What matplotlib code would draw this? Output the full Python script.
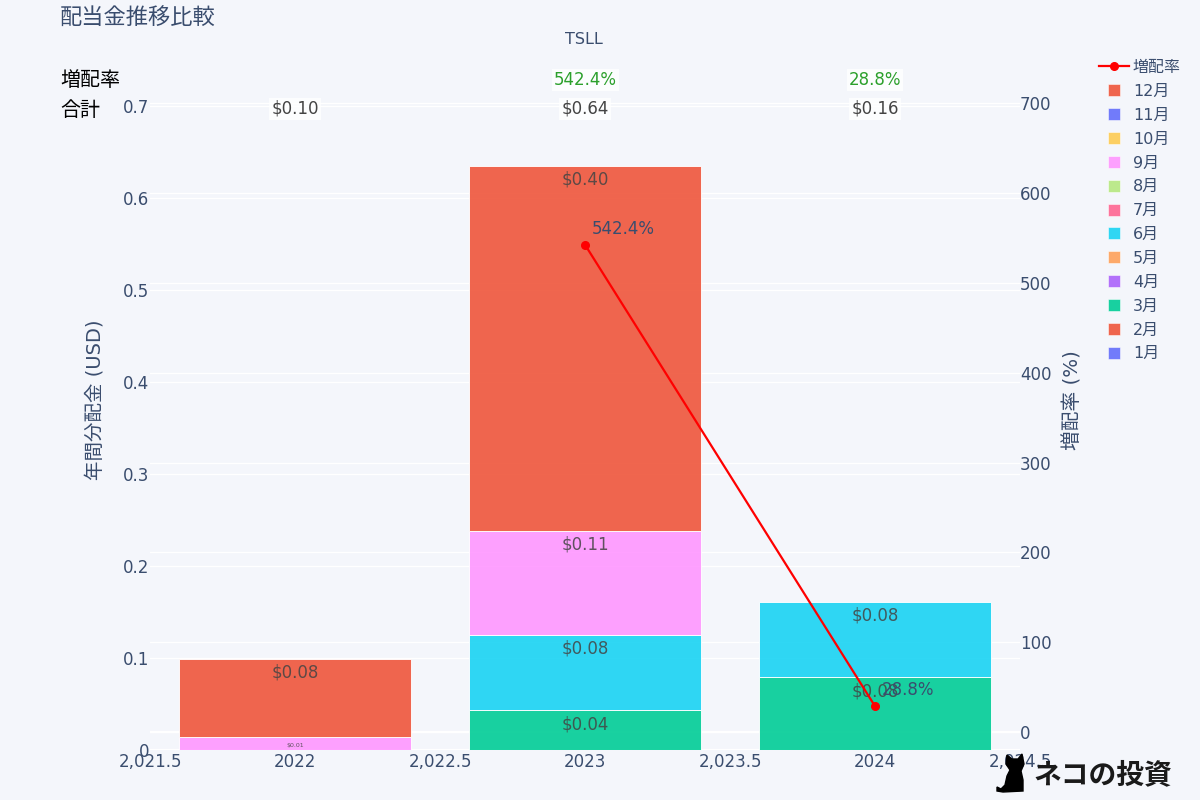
#!/usr/bin/env python
# Dividend comparison chart: stacked monthly bars with growth rate line

import matplotlib
matplotlib.use("Agg")
import matplotlib.pyplot as plt
from matplotlib.lines import Line2D
from matplotlib.patches import Polygon

plt.rcParams['font.family'] = ['DejaVu Sans', 'Noto Sans CJK JP']

years = [2022, 2023, 2024]
months = ['1月', '2月', '3月', '4月', '5月', '6月', '7月', '8月', '9月', '10月', '11月', '12月']
month_colors = ['#636EFA', '#EF553B', '#00CC96', '#AB63FA', '#FFA15A', '#19D3F3',
                '#FF6692', '#B6E880', '#FF97FF', '#FECB52', '#636EFA', '#EF553B']

div_2022 = [0, 0, 0, 0, 0, 0, 0, 0, 0.0145, 0, 0, 0.0845]
div_2023 = [0, 0, 0.043, 0, 0, 0.082, 0, 0, 0.113, 0, 0, 0.397]
div_2024 = [0, 0, 0.079, 0, 0, 0.082, 0, 0, 0, 0, 0, 0]
dividends = [div_2022, div_2023, div_2024]

totals = ['$0.10', '$0.64', '$0.16']
growth_years = [2023, 2024]
growth = [542.4, 28.8]

xticks = [2021.5, 2022, 2022.5, 2023, 2023.5, 2024, 2024.5]
xticklabels = ['2,021.5', '2022', '2,022.5', '2023', '2,023.5', '2024', '2,024.5']
yticks = [0, 0.1, 0.2, 0.3, 0.4, 0.5, 0.6, 0.7]
yticklabels = ['0', '0.1', '0.2', '0.3', '0.4', '0.5', '0.6', '0.7']
y2ticks = [0, 100, 200, 300, 400, 500, 600, 700]

BG = '#f4f6fb'
INK = '#3a4d6e'
GREEN = '#2ca02c'


def px(x, y):
    """Figure fractions from pixel position (origin top left)."""
    return x / 1200.0, 1.0 - y / 800.0


fig = plt.figure(figsize=(12, 8), dpi=100, facecolor=BG)
left, top = px(150, 100)
right, bottom = px(1020, 750)

# right axis sits underneath so that the bars hide its grid
ax2 = fig.add_axes([left, bottom, right - left, top - bottom], facecolor=BG, zorder=1)
ax = fig.add_axes([left, bottom, right - left, top - bottom], zorder=2)
ax.patch.set_visible(False)

ax.set_xlim(2021.5, 2024.5)
ax.set_ylim(0, 0.7065)
ax2.set_xlim(2021.5, 2024.5)
ax2.set_ylim(-20, 703.5)

for a in (ax, ax2):
    for s in a.spines.values():
        s.set_visible(False)

ax2.yaxis.tick_right()
ax2.set_yticks(y2ticks)
ax2.set_xticks([])
ax2.grid(True, axis='y', color='white', lw=0.9)
ax2.axhline(0, color='white', lw=1.6)
ax2.tick_params(axis='y', length=0, pad=0, labelsize=12, labelcolor=INK)

ax.set_xticks(xticks)
ax.set_xticklabels(xticklabels)
ax.set_yticks(yticks)
ax.set_yticklabels(yticklabels)
ax.tick_params(axis='both', length=0, labelsize=12, labelcolor=INK)
ax.tick_params(axis='x', pad=2)
ax.tick_params(axis='y', pad=0.5)
ax.grid(True, axis='y', color='white', lw=0.9)
ax.set_axisbelow(True)
ax.axhline(0, color='white', lw=1.6, zorder=1)

# stacked bars, month by month
for year, values in zip(years, dividends):
    base = 0.0
    for value, color in zip(values, month_colors):
        if value == 0:
            continue
        ax.bar(year, value, width=0.8, bottom=base, color=color, alpha=0.9,
               edgecolor='white', linewidth=0.7, zorder=2)
        small = value < 0.02
        ax.annotate('$%.2f' % value, (year, base + value),
                    xytext=(0, -10 if not small else -6.5), textcoords='offset points',
                    ha='center', va='center', fontsize=4.5 if small else 12,
                    color='#444444', alpha=0.85, zorder=3)
        base += value

# growth line, scaled on the right axis
ax.plot(growth_years, growth, color='red', lw=1.6, marker='o', ms=5.5,
        transform=ax2.transData, zorder=4)
for gx, gy in zip(growth_years, growth):
    ax.annotate('%.1f%%' % gy, (gx, gy), xycoords=ax2.transData, xytext=(4.5, 11.5),
                textcoords='offset points', ha='left', va='center',
                fontsize=12, color=INK, zorder=5)

# rows above the bars
white_box = dict(facecolor='white', edgecolor='none', alpha=0.8, pad=1.5)
for year, total in zip(years, totals):
    ax.text(year, (750 - 109) / 650.0, total, transform=ax.get_xaxis_transform(),
            ha='center', va='center', fontsize=12, color='#444444', bbox=white_box,
            clip_on=False, zorder=6)
for gx, gy in zip(growth_years, growth):
    ax.text(gx, (750 - 80) / 650.0, '%.1f%%' % gy, transform=ax.get_xaxis_transform(),
            ha='center', va='center', fontsize=12, color=GREEN, bbox=white_box,
            clip_on=False, zorder=6)

fig.text(*px(60, 18), '配当金推移比較', fontsize=16, color=INK, ha='left', va='center')
fig.text(*px(584, 39), 'TSLL', fontsize=11.5, color=INK, ha='center', va='center')
fig.text(*px(60, 80), '増配率', fontsize=14.4, color='black', ha='left', va='center')
fig.text(*px(60, 110), '合計', fontsize=14.4, color='black', ha='left', va='center')
fig.text(*px(95, 400), '年間分配金 (USD)', fontsize=14, color=INK, rotation=90,
         ha='center', va='center')
fig.text(*px(1073, 400), '増配率 (%)', fontsize=14.2, color=INK, rotation=90,
         ha='center', va='center')

# legend, newest month on top
handles = [Line2D([], [], color='red', lw=1.6, marker='o', ms=5.5)]
labels = ['増配率']
for name, color in zip(months[::-1], month_colors[::-1]):
    handles.append(Line2D([], [], ls='none', marker='s', ms=8, color=color, alpha=0.9,
                          markeredgecolor='white', markeredgewidth=0.4))
    labels.append(name)
fig.legend(handles, labels, loc='upper left', bbox_to_anchor=px(1099, 60), frameon=False,
           fontsize=11.5, labelcolor=INK, handlelength=1.9, handletextpad=0.22,
           labelspacing=0.555, borderpad=0, borderaxespad=0)

# logo in the corner
cat = [(997, 787), (1001, 789), (1005, 785), (1007, 776), (1010, 770), (1006, 764), (1007, 755),
       (1012, 759), (1018, 759), (1022, 754), (1024, 764), (1021, 771), (1023, 780),
       (1023, 791), (1003, 792), (997, 791)]
fig.add_artist(Polygon([px(*p) for p in cat], closed=True, color='black',
                       transform=fig.transFigure, zorder=10))
fig.text(*px(1103, 775), 'ネコの投資', fontsize=20, color='#1a1a1a', ha='center', va='center',
         fontweight='bold', zorder=10)

fig.savefig('out.png', dpi=100, facecolor=BG)
